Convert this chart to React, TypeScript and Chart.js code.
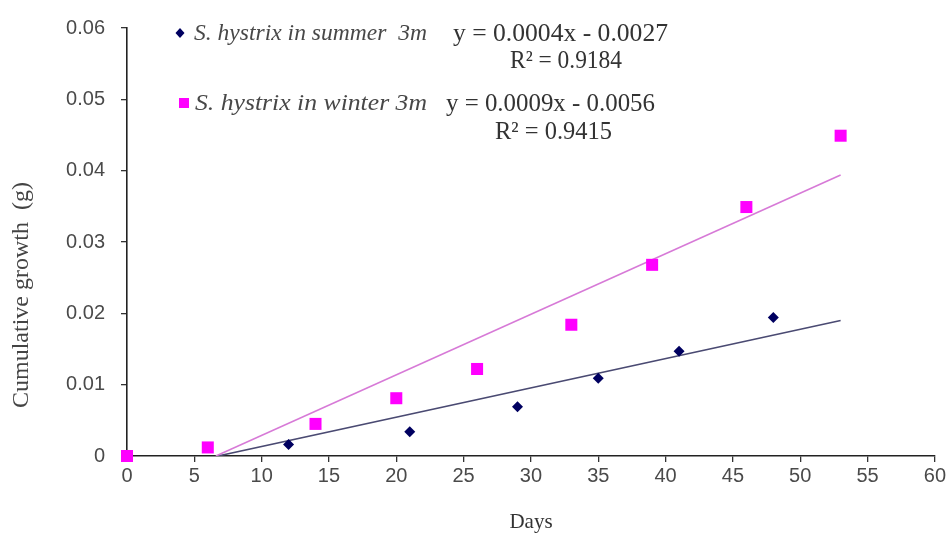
import React, { useEffect, useRef } from "react";
import { Chart, registerables } from "chart.js";

Chart.register(...registerables);

// ---- data ----
const summerDays = [0, 12, 21, 29, 35, 41, 48];
const summerGrowth = [0, 0.0016, 0.0034, 0.0069, 0.0109, 0.0147, 0.0194];
const winterDays = [0, 6, 14, 20, 26, 33, 39, 46, 53];
const winterGrowth = [0, 0.0012, 0.0045, 0.0081, 0.0122, 0.0184, 0.0268, 0.0349, 0.0449];
// trend line end points (as drawn, clipped at y = 0)
const summerTrendX = [6.75, 53];
const summerTrendY = [0, 0.019];
const winterTrendX = [6.6, 53];
const winterTrendY = [0, 0.0394];

const seriesNames = ["S. hystrix in summer  3m", "S. hystrix in winter 3m"];
const equations = ["y = 0.0004x - 0.0027", "y = 0.0009x - 0.0056"];
const rSquared = ["R² = 0.9184", "R² = 0.9415"];
const xTitle = "Days";
const yTitle = "Cumulative growth  (g)";

const NAVY = "#000060";
const MAGENTA = "#ff00ff";

const toPts = (xs: number[], ys: number[]) => xs.map((x, i) => ({ x, y: ys[i] }));

// draw text left-aligned at (x, y), stretched horizontally to span `w` pixels
function fitText(ctx: CanvasRenderingContext2D, text: string, x: number, y: number, w: number) {
  const m = ctx.measureText(text).width;
  ctx.save();
  ctx.translate(x, y);
  ctx.scale(w / m, 1);
  ctx.fillText(text, 0, 0);
  ctx.restore();
}

const annotPlugin = {
  id: "annot",
  afterDraw(chart: any) {
    const ctx = chart.ctx as CanvasRenderingContext2D;
    ctx.save();
    // y title
    ctx.fillStyle = "#444";
    ctx.font = "24px 'Liberation Serif'";
    ctx.textAlign = "center";
    ctx.textBaseline = "middle";
    ctx.translate(22, 295);
    ctx.rotate(-Math.PI / 2);
    ctx.fillText(yTitle, 0, 0);
    ctx.setTransform(1, 0, 0, 1, 0, 0);
    // x title
    ctx.font = "21px 'Liberation Serif'";
    ctx.fillStyle = "#333";
    ctx.fillText(xTitle, 531, 522);

    // legend markers
    ctx.fillStyle = NAVY;
    ctx.beginPath();
    ctx.moveTo(180, 28);
    ctx.lineTo(184.5, 33);
    ctx.lineTo(180, 38);
    ctx.lineTo(175.5, 33);
    ctx.closePath();
    ctx.fill();
    ctx.fillStyle = MAGENTA;
    ctx.fillRect(179, 98, 10, 10);

    // legend texts
    ctx.textAlign = "left";
    ctx.textBaseline = "middle";
    ctx.fillStyle = "#484848";
    ctx.font = "italic 24px 'Liberation Serif'";
    fitText(ctx, seriesNames[0], 194, 34, 233);
    fitText(ctx, seriesNames[1], 195, 104, 232);
    ctx.fillStyle = "#333";
    ctx.font = "25px 'Liberation Serif'";
    fitText(ctx, equations[0], 453, 34, 215);
    fitText(ctx, rSquared[0], 510, 61, 112);
    fitText(ctx, equations[1], 446, 104, 209);
    fitText(ctx, rSquared[1], 495, 132, 117);
    ctx.restore();
  },
};

export default function App() {
  const ref = useRef<HTMLCanvasElement>(null);
  useEffect(() => {
    document.body.style.margin = "0";
    const canvas = ref.current!;
    const chart = new Chart(canvas, {
      type: "scatter",
      data: {
        datasets: [
          {
            label: "summer trend",
            data: toPts(summerTrendX, summerTrendY),
            showLine: true,
            borderColor: "#4a4a72",
            borderWidth: 1.6,
            pointRadius: 0,
            order: 4,
          },
          {
            label: "winter trend",
            data: toPts(winterTrendX, winterTrendY),
            showLine: true,
            borderColor: "#d77ad7",
            borderWidth: 1.6,
            pointRadius: 0,
            order: 3,
          },
          {
            label: seriesNames[0],
            data: toPts(summerDays, summerGrowth),
            pointStyle: "rectRot",
            pointRadius: 5.5,
            backgroundColor: NAVY,
            borderColor: NAVY,
            borderWidth: 0,
            clip: false,
            order: 2,
          },
          {
            label: seriesNames[1],
            data: toPts(winterDays, winterGrowth),
            pointStyle: "rect",
            pointRadius: 8.5,
            backgroundColor: MAGENTA,
            borderColor: MAGENTA,
            borderWidth: 0,
            clip: false,
            order: 1,
          },
        ],
      },
      options: {
        animation: false,
        responsive: false,
        devicePixelRatio: 1,
        layout: { padding: { left: 0, right: 12, top: 24, bottom: 0 } },
        plugins: {
          legend: { display: false },
          tooltip: { enabled: false },
        },
        scales: {
          x: {
            type: "linear",
            min: 0,
            max: 60,
            ticks: {
              stepSize: 5,
              color: "#4a4a4a",
              font: { family: "'Liberation Sans'", size: 20 },
              padding: 2,
            },
            grid: {
              drawOnChartArea: false,
              drawTicks: true,
              tickLength: 6,
              color: "#333",
              lineWidth: 1.3,
            },
            border: { display: true, color: "#222", width: 1.6 },
            afterFit: (s: any) => {
              s.height = 80;
            },
          },
          y: {
            type: "linear",
            min: 0,
            max: 0.06,
            ticks: {
              stepSize: 0.01,
              color: "#4a4a4a",
              font: { family: "'Liberation Sans'", size: 20 },
              padding: 16,
              callback: (v: any) => String(Number(Number(v).toFixed(2))),
            },
            grid: {
              drawOnChartArea: false,
              drawTicks: true,
              tickLength: 6,
              color: "#333",
              lineWidth: 1.3,
            },
            border: { display: true, color: "#222", width: 1.6 },
            afterFit: (s: any) => {
              s.width = 127;
            },
          },
        },
      },
      plugins: [annotPlugin],
    });
    return () => chart.destroy();
  }, []);
  return (
    <div style={{ width: 948, height: 536, background: "#fff" }}>
      <canvas ref={ref} width={948} height={536} style={{ display: "block" }} />
    </div>
  );
}
